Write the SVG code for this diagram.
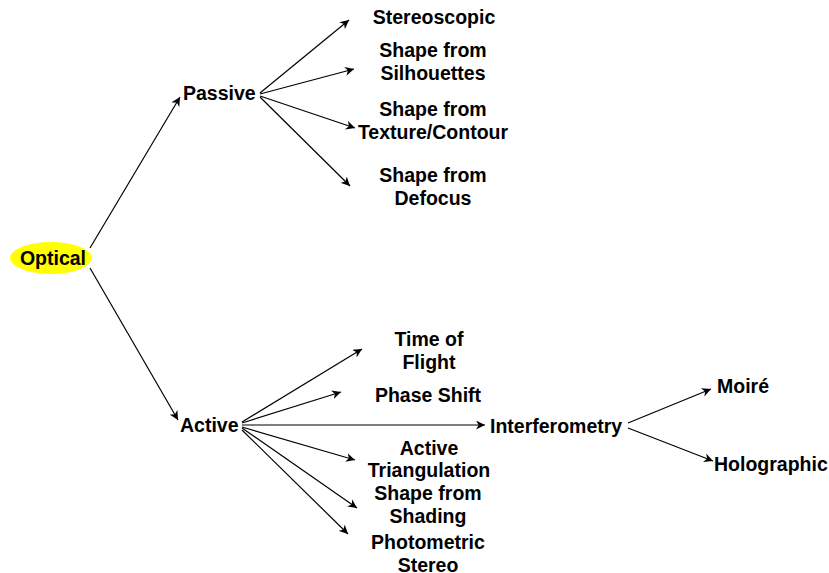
<svg xmlns="http://www.w3.org/2000/svg" width="829" height="573" viewBox="0 0 829 573">
<defs>
<marker id="ah" viewBox="0 0 10 10" refX="10" refY="5" markerWidth="9" markerHeight="9" markerUnits="userSpaceOnUse" orient="auto">
<path d="M0,0 L10,5 L0,10 L3,5 z" fill="#000"/>
</marker>
<style>
text{font-family:"Liberation Sans",Arial,sans-serif;font-weight:bold;font-size:19.5px;fill:#000}
.c{text-anchor:middle}
line{stroke:#000;stroke-width:1.2;marker-end:url(#ah)}
</style>
</defs>
<rect width="829" height="573" fill="#fff"/>
<g id="connectors">
<line x1="90" y1="248" x2="180" y2="97"/>
<line x1="90" y1="268" x2="178" y2="420"/>
<line x1="260" y1="93" x2="349" y2="20"/>
<line x1="260" y1="94" x2="354" y2="69"/>
<line x1="260" y1="96" x2="355" y2="128"/>
<line x1="260" y1="97" x2="350" y2="186"/>
<line x1="242" y1="422" x2="362" y2="349"/>
<line x1="242" y1="423" x2="341" y2="392"/>
<line x1="242" y1="425" x2="485" y2="425"/>
<line x1="242" y1="427" x2="355" y2="460"/>
<line x1="242" y1="428" x2="357" y2="508"/>
<line x1="242" y1="430" x2="348" y2="534"/>
<line x1="628" y1="423" x2="711" y2="389"/>
<line x1="628" y1="428" x2="713" y2="461"/>
</g>
<g id="optical">
<ellipse cx="51" cy="258" rx="41" ry="16" fill="#ffff00"/>
<text x="53" y="265" class="c">Optical</text>
</g>
<g id="passive"><text x="183" y="100">Passive</text></g>
<g id="active"><text x="180" y="432">Active</text></g>
<g id="stereoscopic"><text x="434" y="24" class="c">Stereoscopic</text></g>
<g id="silhouettes"><text x="433" y="57" class="c">Shape from</text><text x="433" y="80" class="c">Silhouettes</text></g>
<g id="texture"><text x="433" y="116" class="c">Shape from</text><text x="433" y="139" class="c">Texture/Contour</text></g>
<g id="defocus"><text x="433" y="182" class="c">Shape from</text><text x="433" y="205" class="c">Defocus</text></g>
<g id="tof"><text x="429" y="346" class="c">Time of</text><text x="429" y="369" class="c">Flight</text></g>
<g id="phase"><text x="428" y="402" class="c">Phase Shift</text></g>
<g id="interferometry"><text x="490" y="433">Interferometry</text></g>
<g id="triangulation"><text x="429" y="455" class="c">Active</text><text x="429" y="477" class="c">Triangulation</text></g>
<g id="shading"><text x="428" y="500" class="c">Shape from</text><text x="428" y="523" class="c">Shading</text></g>
<g id="photometric"><text x="428" y="549" class="c">Photometric</text><text x="428" y="572" class="c">Stereo</text></g>
<g id="moire"><text x="717" y="393">Moiré</text></g>
<g id="holographic"><text x="714" y="471">Holographic</text></g>
</svg>
